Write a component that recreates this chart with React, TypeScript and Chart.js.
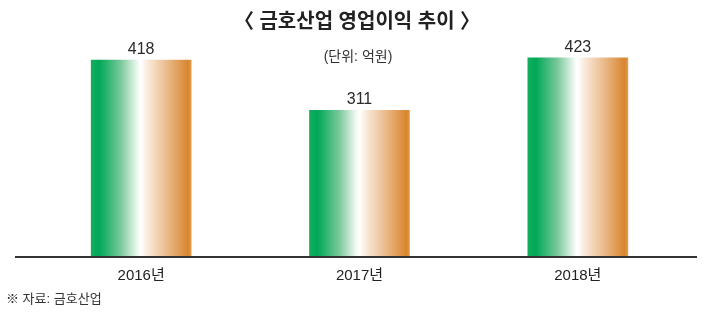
import React, { useEffect, useRef } from "react";
import { Chart, registerables } from "chart.js";

Chart.register(...registerables);

const categories = ["2016년", "2017년", "2018년"];
const profits = [418, 311, 423];
const titleText = "〈 금호산업 영업이익 추이 〉";
const unitText = "(단위: 억원)";
const sourceText = "※ 자료: 금호산업";

const FONT = '"Liberation Sans", "Noto Sans CJK KR", sans-serif';

const BAR_W = 100;

const decorPlugin = {
  id: "decor",
  afterDatasetsDraw(chart: any) {
    const ctx = chart.ctx;
    const area = chart.chartArea;
    ctx.save();
    // baseline
    ctx.strokeStyle = "#333333";
    ctx.lineWidth = 2;
    ctx.beginPath();
    ctx.moveTo(15, area.bottom + 1);
    ctx.lineTo(697, area.bottom + 1);
    ctx.stroke();
    // value labels
    const meta = chart.getDatasetMeta(0);
    ctx.fillStyle = "#2a2a2a";
    ctx.font = `16px ${FONT}`;
    ctx.textAlign = "center";
    ctx.textBaseline = "alphabetic";
    meta.data.forEach((el: any, i: number) => {
      ctx.fillText(String(profits[i]), el.x, el.y - 6);
    });
    // title
    ctx.font = `bold 20px ${FONT}`;
    ctx.fillStyle = "#222222";
    ctx.textBaseline = "middle";
    ctx.fillText(titleText, 357, 22);
    // unit
    ctx.font = `14px ${FONT}`;
    ctx.fillStyle = "#333333";
    ctx.fillText(unitText, 358, 57);
    // source
    ctx.textAlign = "left";
    ctx.font = `13px ${FONT}`;
    ctx.fillText(sourceText, 6, 299);
    ctx.restore();
  },
};

function barGradient(context: any) {
  const chart = context.chart;
  const xScale = chart.scales?.x;
  if (!xScale || context.dataIndex === undefined) return "#00a651";
  const cx = xScale.getPixelForValue(context.dataIndex);
  if (!isFinite(cx)) return "#00a651";
  const g = chart.ctx.createLinearGradient(cx - BAR_W / 2, 0, cx + BAR_W / 2, 0);
  g.addColorStop(0, "#12ad5e");
  g.addColorStop(0.08, "#00a857");
  g.addColorStop(0.3, "#7cc99c");
  g.addColorStop(0.47, "#f4faf6");
  g.addColorStop(0.5, "#ffffff");
  g.addColorStop(0.55, "#fbeee2");
  g.addColorStop(0.8, "#e7b07a");
  g.addColorStop(0.97, "#d8862e");
  g.addColorStop(1, "#e09a4c");
  return g;
}

export default function App() {
  const ref = useRef<HTMLCanvasElement | null>(null);
  useEffect(() => {
    if (!ref.current) return;
    const chart = new Chart(ref.current, {
      type: "bar",
      data: {
        labels: categories,
        datasets: [
          {
            data: profits,
            backgroundColor: barGradient as any,
            borderWidth: 0,
            barThickness: BAR_W,
          },
        ],
      },
      options: {
        animation: false,
        responsive: false,
        maintainAspectRatio: false,
        layout: { padding: { top: 31, left: 32, right: 22, bottom: 19 } },
        plugins: {
          legend: { display: false },
          title: { display: false },
          tooltip: { enabled: false },
        },
        scales: {
          y: { display: false, min: 0, max: 480 },
          x: {
            grid: { display: false, drawTicks: false },
            border: { display: false },
            ticks: {
              color: "#222222",
              font: { family: FONT, size: 15 },
              padding: 11,
            },
          },
        },
      },
      plugins: [decorPlugin],
    });
    return () => chart.destroy();
  }, []);
  return (
    <div style={{ position: "fixed", left: 0, top: 0, width: 709, height: 315, background: "#fff" }}>
      <canvas ref={ref} width={709} height={315} style={{ width: 709, height: 315 }} />
    </div>
  );
}
